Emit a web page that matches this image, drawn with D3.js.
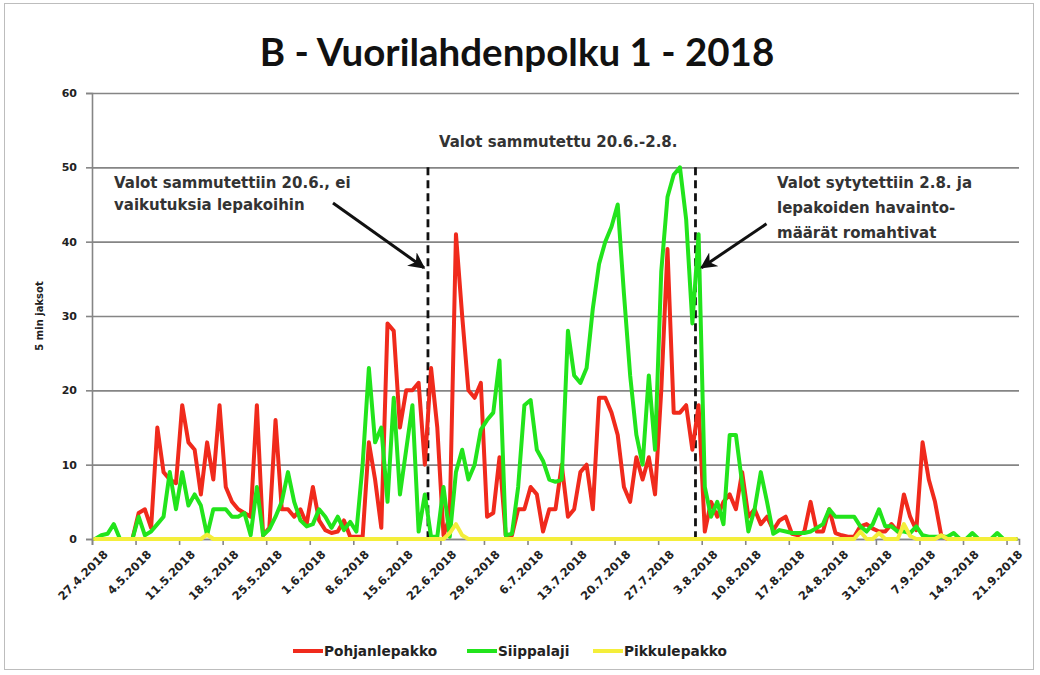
<!DOCTYPE html>
<html>
<head>
<meta charset="utf-8">
<script src="https://cdn.jsdelivr.net/npm/d3@7"></script>
<style>
  body { margin: 0; background: #fff; }
  svg { display: block; }
  text { font-family: "DejaVu Sans", sans-serif; }
  text.chart-title { font-family: Lato, "Open Sans", sans-serif; }
</style>
</head>
<body>
<svg id="chart" width="1040" height="675"></svg>
<script>
// Daily counts of 5-minute periods with bat activity, 27.4.2018 onwards (149 days)
const startDay = "27.4.2018";
const dayCount = 149;

const seriesNames = ["Pohjanlepakko", "Siippalaji", "Pikkulepakko"];
const seriesColors = ["#f02a1c", "#22e41c", "#f4ee3a"];

const pohjanlepakko = [
  0, 0, 0, 0, 0, 0, 0, 3.5, 4, 1.5,
  15, 9, 8, 7.5, 18, 13, 12, 6, 13, 8,
  18, 7, 5, 4, 3.5, 3, 18, 0.5, 1.5, 16,
  4, 4, 3, 4, 2, 7, 2.5, 1.2, 0.8, 1,
  2.5, 0.3, 0.3, 0.3, 13, 8, 1.5, 29, 28, 15,
  20, 20, 21, 10, 23, 15, 0.5, 3, 41, 30,
  20, 19, 21, 3, 3.5, 11, 0.5, 0.5, 4, 4,
  7, 6, 1, 4, 4, 10, 3, 4, 9, 10,
  4, 19, 19, 17, 14, 7, 5, 11, 8, 11,
  6, 20, 39, 17, 17, 18, 12, 18, 1, 5,
  3, 5, 6, 4, 9, 3, 4, 2, 3, 1.2,
  2.5, 3, 0.7, 0.5, 1, 5, 1, 1, 4, 0.8,
  0.5, 0.3, 0.3, 1.7, 2, 1.4, 1, 1, 2, 1,
  6, 3, 1.2, 13, 8, 5, 0.5, 0, 0, 0,
  0, 0, 0, 0, 0, 0, 0, 0, 0
];

const siippalaji = [
  0, 0.5, 0.7, 2, 0, 0, 0, 3, 0.5, 1,
  2, 3, 9, 4, 9, 4.5, 6, 4.5, 0.5, 4,
  4, 4, 3, 3, 3.5, 0.5, 7, 0.5, 1.3, 3,
  5, 9, 5, 2.5, 1.7, 2, 4, 3, 1.5, 3,
  1.2, 2.3, 1, 10, 23, 13, 15, 5, 19, 6,
  12, 18, 1, 6, 0.3, 0.3, 7, 0.3, 9, 12,
  8, 10, 14.7, 16, 17, 24, 0.5, 0.7, 7, 18,
  18.7, 12, 10.5, 8, 7.7, 8, 28, 22, 21, 23,
  31, 37, 40, 42, 45, 33, 22, 14, 10, 22,
  12, 36, 46, 49, 50, 43, 29, 41, 7, 3,
  5, 2, 14, 14, 7.5, 1, 4, 9, 5, 0.7,
  1.2, 1, 0.8, 0.8, 0.8, 1, 1.5, 2, 4, 3,
  3, 3, 3, 1.7, 1, 2, 4, 1.7, 1.7, 1,
  1, 0.8, 1.7, 0.5, 0.3, 0.3, 0.3, 0.3, 0.8, 0,
  0, 0.8, 0, 0, 0, 0.8, 0, 0, 0
];

const pikkulepakko = [
  0, 0, 0, 0, 0, 0, 0, 0, 0, 0,
  0, 0, 0, 0, 0, 0, 0, 0, 0.6, 0,
  0, 0, 0, 0, 0, 0, 0, 0, 0, 0,
  0, 0, 0, 0, 0, 0, 0, 0, 0, 0,
  0, 0, 0, 0, 0, 0, 0, 0, 0, 0,
  0, 0, 0, 0, 0, 0, 0, 0.8, 2, 0.5,
  0, 0, 0, 0, 0, 0, 0, 0, 0, 0,
  0, 0, 0, 0, 0, 0, 0, 0, 0, 0,
  0, 0, 0, 0, 0, 0, 0, 0, 0, 0,
  0, 0, 0, 0, 0, 0, 0, 0, 0, 0,
  0, 0, 0, 0, 0, 0, 0, 0, 0, 0,
  0, 0, 0, 0, 0, 0, 0, 0, 0, 0,
  0, 0, 0, 1, 0, 0, 0.8, 0, 0, 0,
  2, 0.4, 0, 0, 0, 0, 0.5, 0, 0, 0,
  0, 0, 0, 0, 0, 0, 0, 0, 0
];

const tickLabels = [
  "27.4.2018", "4.5.2018", "11.5.2018", "18.5.2018", "25.5.2018", "1.6.2018",
  "8.6.2018", "15.6.2018", "22.6.2018", "29.6.2018", "6.7.2018", "13.7.2018",
  "20.7.2018", "27.7.2018", "3.8.2018", "10.8.2018", "17.8.2018", "24.8.2018",
  "31.8.2018", "7.9.2018", "14.9.2018", "21.9.2018"
];
const yTicks = [0, 10, 20, 30, 40, 50, 60];

const lightsOffDay = "20.6.2018";
const lightsOnDay = "2.8.2018";

const titleText = "B - Vuorilahdenpolku 1 - 2018";
const yLabel = "5 min jaksot";
const periodNote = "Valot sammutettu 20.6.-2.8.";
const offNote = ["Valot sammutettiin 20.6., ei", "vaikutuksia lepakoihin"];
const onNote = ["Valot sytytettiin 2.8. ja", "lepakoiden havainto-", "määrät romahtivat"];

// ---- layout ----
const parseDay = d3.timeParse("%d.%m.%Y");
const fmtDay = d3.timeFormat("%-d.%-m.%Y");
const start = parseDay(startDay);
const margin = { left: 92, right: 1019, top: 93, bottom: 539 };

const svg = d3.select("#chart");

svg.append("rect")
  .attr("x", 4.5).attr("y", 3.5).attr("width", 1029).attr("height", 666)
  .attr("fill", "#fff").attr("stroke", "#bdbdbd").attr("stroke-width", 1);

const x = d3.scaleTime()
  .domain([start, d3.timeDay.offset(start, dayCount)])
  .range([margin.left, margin.right]);
const y = d3.scaleLinear().domain([0, 60]).range([margin.bottom, margin.top]);

const dayCenter = i => d3.timeHour.offset(d3.timeDay.offset(start, i), 12);

// gridlines
svg.append("g")
  .attr("transform", `translate(${margin.left},0)`)
  .call(d3.axisLeft(y).tickValues(yTicks).tickSize(-(margin.right - margin.left)).tickFormat(""))
  .call(g => g.select(".domain").remove())
  .call(g => g.selectAll("line").attr("stroke", "#858585").attr("stroke-width", 1.6));

// y axis
svg.append("g")
  .attr("transform", `translate(${margin.left},0)`)
  .call(d3.axisLeft(y).tickValues(yTicks).tickSize(6).tickPadding(9))
  .call(g => g.select(".domain").attr("stroke", "#858585").attr("stroke-width", 1.6))
  .call(g => g.selectAll("line").attr("stroke", "#858585").attr("stroke-width", 1.6))
  .call(g => g.selectAll("text")
    .attr("font-size", 11).attr("font-weight", 700).attr("fill", "#222"));

svg.append("text")
  .attr("transform", `translate(43,${(margin.top + margin.bottom) / 2}) rotate(-90)`)
  .attr("text-anchor", "middle")
  .attr("font-size", 10).attr("font-weight", 700).attr("fill", "#222")
  .text(yLabel);

// x axis
const tickDates = tickLabels.map(parseDay);
svg.append("g")
  .attr("transform", `translate(0,${margin.bottom})`)
  .call(d3.axisBottom(x).tickValues(tickDates).tickFormat(fmtDay).tickSize(6))
  .call(g => g.select(".domain").attr("stroke", "#858585").attr("stroke-width", 1.6))
  .call(g => g.selectAll("line").attr("stroke", "#858585").attr("stroke-width", 1.6))
  .call(g => g.selectAll("text")
    .attr("font-size", 11.5).attr("font-weight", 700).attr("fill", "#222")
    .attr("text-anchor", "end")
    .attr("dy", "0.35em")
    .attr("transform", "translate(7,7) rotate(-45)"));

// event markers
const markerTop = y(50);
[lightsOffDay, lightsOnDay].forEach(d => {
  const xv = x(parseDay(d));
  svg.append("line")
    .attr("x1", xv).attr("x2", xv).attr("y1", markerTop).attr("y2", margin.bottom)
    .attr("stroke", "#111").attr("stroke-width", 2.8).attr("stroke-dasharray", "8,5");
});

// series lines
const seriesData = [pohjanlepakko, siippalaji, pikkulepakko];
const line = d3.line()
  .x((v, i) => x(dayCenter(i)))
  .y(v => y(v));
seriesData.forEach((vals, k) => {
  svg.append("path")
    .datum(vals)
    .attr("d", line)
    .attr("fill", "none")
    .attr("stroke", seriesColors[k])
    .attr("stroke-width", 4)
    .attr("stroke-linejoin", "round")
    .attr("stroke-linecap", "round");
});

// title
svg.append("text")
  .attr("class", "chart-title")
  .attr("x", 517).attr("y", 66)
  .attr("text-anchor", "middle")
  .attr("font-size", 38.5).attr("font-weight", 700).attr("fill", "#111")
  .text(titleText);

// annotations
const noteFont = 15;
const noteColor = "#333";
svg.append("text")
  .attr("x", x(parseDay(lightsOffDay)) + 11).attr("y", 147)
  .attr("font-size", noteFont).attr("font-weight", 700).attr("fill", noteColor)
  .text(periodNote);

const offText = svg.append("text")
  .attr("font-size", noteFont).attr("font-weight", 700).attr("fill", noteColor);
offNote.forEach((t, i) => offText.append("tspan").attr("x", 114).attr("y", 188 + i * 22).text(t));

const onText = svg.append("text")
  .attr("font-size", noteFont).attr("font-weight", 700).attr("fill", noteColor);
onNote.forEach((t, i) => onText.append("tspan").attr("x", 777).attr("y", 188 + i * 25).text(t));

svg.append("defs").append("marker")
  .attr("id", "arrowHead")
  .attr("viewBox", "0 0 10 10")
  .attr("refX", 9).attr("refY", 5)
  .attr("markerWidth", 5.5).attr("markerHeight", 5.5)
  .attr("orient", "auto")
  .append("path")
  .attr("d", "M0,0 L10,5 L0,10 L3,5 Z")
  .attr("fill", "#111");

const offX = x(parseDay(lightsOffDay));
const onX = x(parseDay(lightsOnDay));
svg.append("line")
  .attr("x1", 333).attr("y1", y(45.2))
  .attr("x2", offX - 4).attr("y2", y(36.5))
  .attr("stroke", "#111").attr("stroke-width", 3)
  .attr("marker-end", "url(#arrowHead)");
svg.append("line")
  .attr("x1", onX + 71).attr("y1", y(42.4))
  .attr("x2", onX + 6).attr("y2", y(36.5))
  .attr("stroke", "#111").attr("stroke-width", 3)
  .attr("marker-end", "url(#arrowHead)");

// legend
const legendX = [293, 467, 593];
const legend = svg.append("g");
seriesNames.forEach((name, k) => {
  legend.append("line")
    .attr("x1", legendX[k]).attr("x2", legendX[k] + 30)
    .attr("y1", 651).attr("y2", 651)
    .attr("stroke", seriesColors[k]).attr("stroke-width", 4);
  legend.append("text")
    .attr("x", legendX[k] + 31).attr("y", 656)
    .attr("font-size", 13.7).attr("font-weight", 700).attr("fill", "#222")
    .text(name);
});
</script>
</body>
</html>
